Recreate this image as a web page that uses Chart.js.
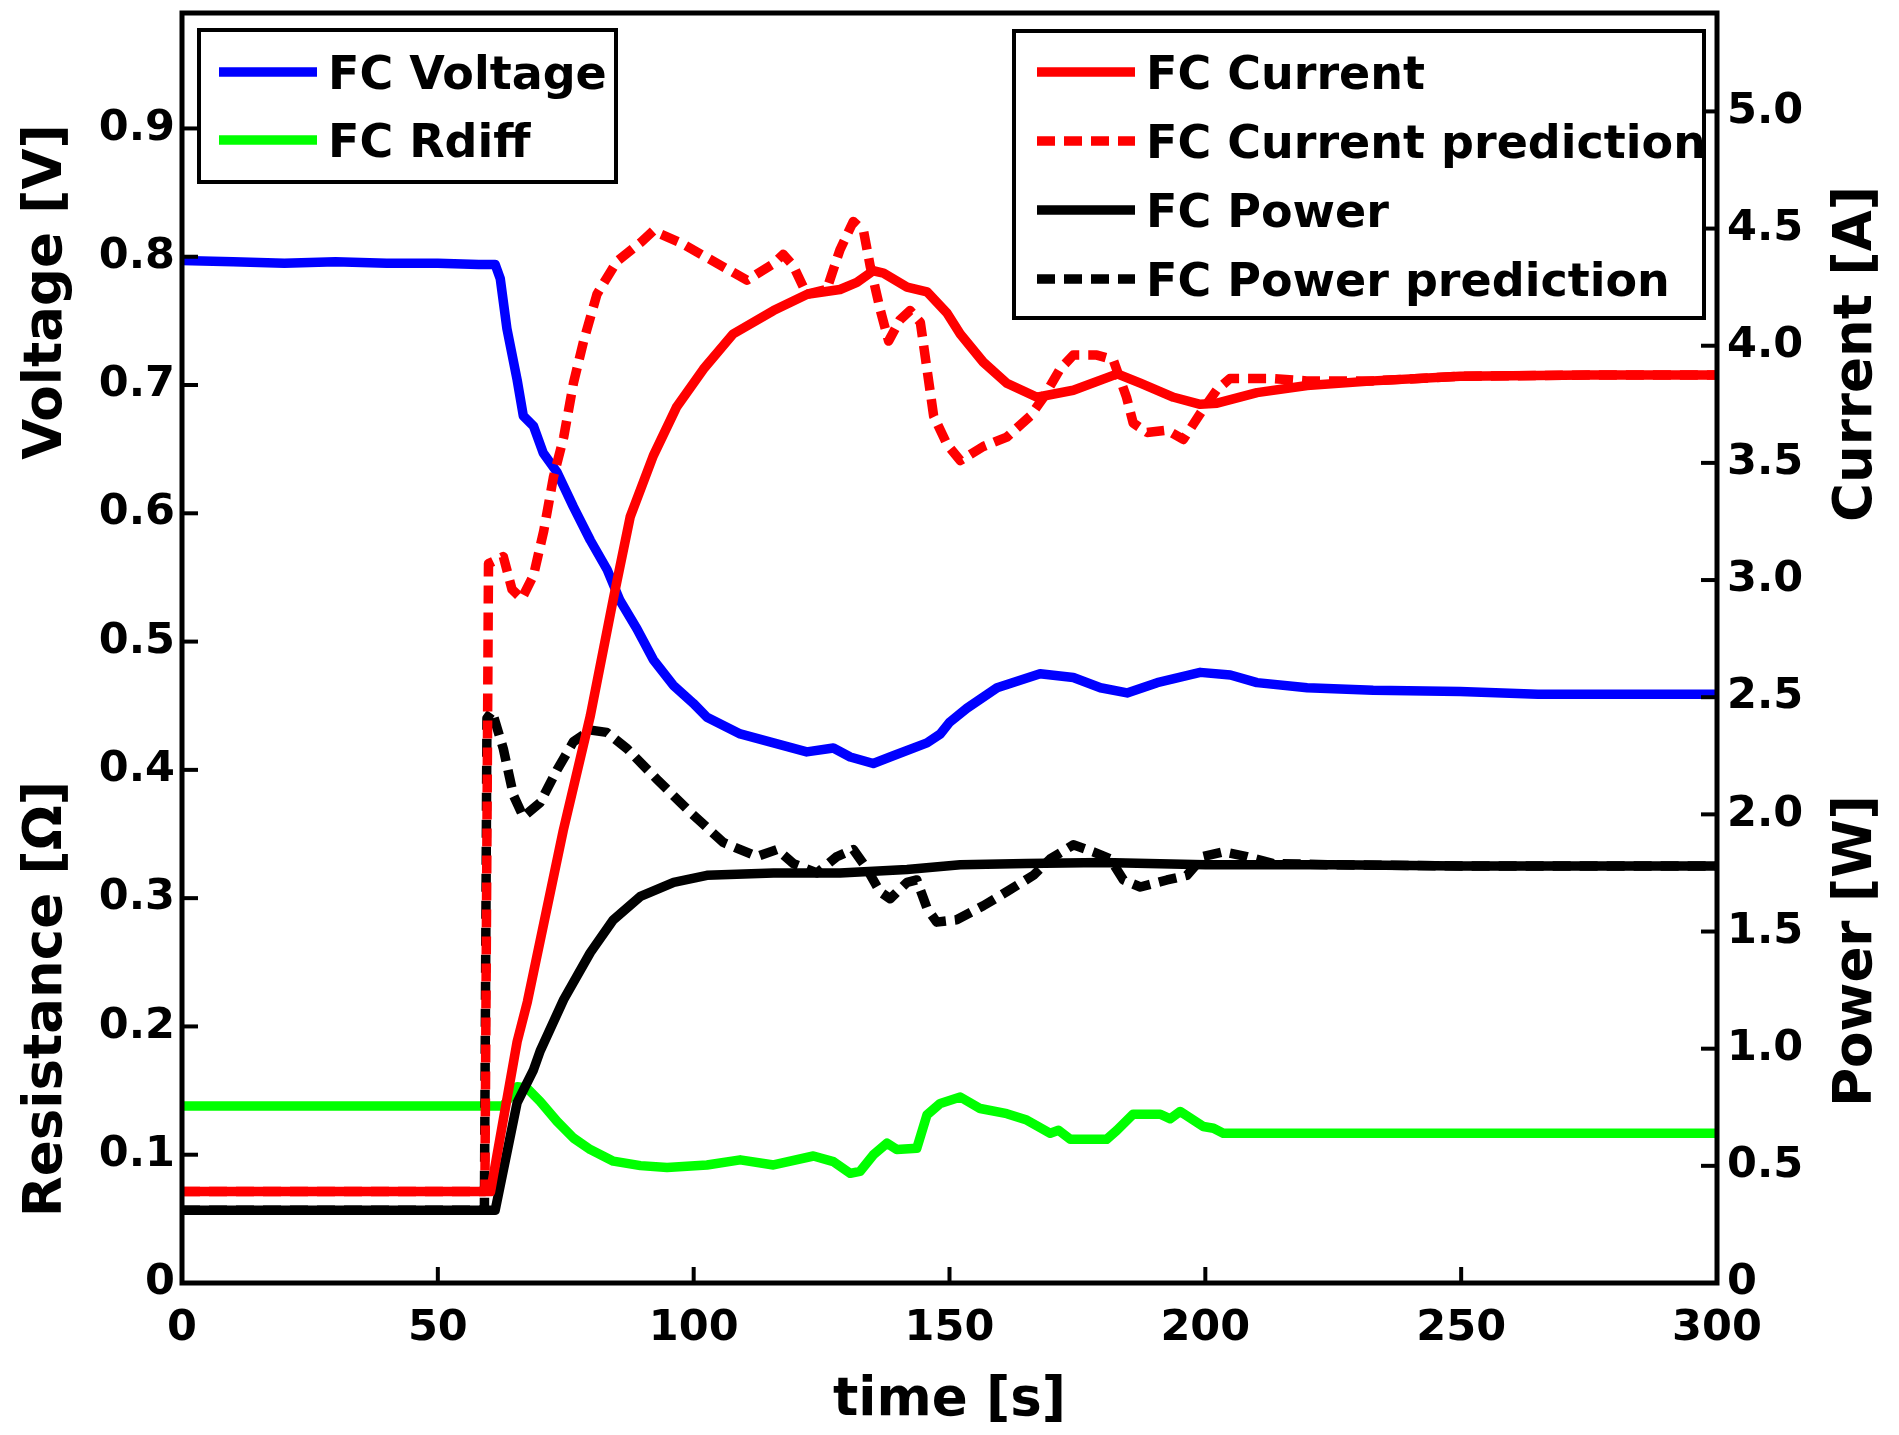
<!DOCTYPE html>
<html>
<head>
<meta charset="utf-8">
<title>FC step response</title>
<script src="https://cdn.jsdelivr.net/npm/chart.js@4.4.1/dist/chart.umd.min.js"></script>
<style>
  html, body { margin: 0; padding: 0; background: #fff; }
  #wrap { width: 1899px; height: 1435px; }
</style>
</head>
<body>
<div id="wrap"><canvas id="fcChart" width="1899" height="1435"></canvas></div>
<script>
// ────────────────────────────────────────────────
// Data (time in s)
// ────────────────────────────────────────────────
const xTicks = [0, 50, 100, 150, 200, 250, 300];
const leftTicks = [0, 0.1, 0.2, 0.3, 0.4, 0.5, 0.6, 0.7, 0.8, 0.9];
const rightTicks = [0, 0.5, 1.0, 1.5, 2.0, 2.5, 3.0, 3.5, 4.0, 4.5, 5.0];

// FC Voltage [V] (left axis)
const voltageTime = [0, 10, 20, 30, 40, 50, 58, 61.2, 62.2, 63.5, 65.5, 66.7, 68.7, 70.6, 73.3, 76.5, 79.8, 83.1, 85.6, 88.9, 92.1, 96, 99.9, 102.6, 109.1, 115.6, 122.1, 127.3, 130.6, 135.1, 139, 145.6, 148.2, 150, 153.4, 159.3, 167.7, 174.2, 179.5, 184.7, 190.6, 199, 204.9, 210.1, 219.9, 232.8, 249.8, 265, 280, 300];
const voltageValues = [0.797, 0.796, 0.795, 0.796, 0.795, 0.795, 0.794, 0.794, 0.783, 0.744, 0.704, 0.676, 0.668, 0.647, 0.632, 0.605, 0.579, 0.556, 0.532, 0.510, 0.486, 0.466, 0.452, 0.441, 0.428, 0.421, 0.414, 0.417, 0.410, 0.405, 0.411, 0.421, 0.428, 0.437, 0.448, 0.464, 0.475, 0.472, 0.464, 0.460, 0.468, 0.476, 0.474, 0.468, 0.464, 0.462, 0.461, 0.459, 0.459, 0.459];

// FC Rdiff [Ohm] (left axis)
const rdiffTime = [0, 30, 62.8, 65.5, 67.4, 70.0, 73.3, 76.5, 79.8, 84.3, 89.6, 94.8, 102.6, 109.1, 115.6, 123.4, 127.3, 130.6, 132.5, 135.1, 137.8, 139.7, 143.6, 145.6, 148.2, 152.1, 156.0, 161.2, 165.1, 169.7, 171.3, 173.6, 180.7, 182.7, 185.9, 191.2, 193.1, 195.1, 199.6, 201.6, 203.5, 250, 300];
const rdiffValues = [0.138, 0.138, 0.138, 0.153, 0.152, 0.1415, 0.126, 0.113, 0.104, 0.095, 0.0915, 0.090, 0.092, 0.096, 0.092, 0.099, 0.0946, 0.0855, 0.087, 0.0998, 0.109, 0.104, 0.105, 0.131, 0.140, 0.145, 0.136, 0.132, 0.127, 0.1167, 0.119, 0.112, 0.112, 0.119, 0.1316, 0.1316, 0.128, 0.1337, 0.122, 0.1206, 0.1167, 0.1167, 0.1167];

// FC Current [A] (right axis)
const currentTime = [0, 30, 60.3, 65.5, 67.5, 74.5, 79.8, 84.3, 87.6, 92.1, 96.7, 101.9, 107.7, 115.6, 122.2, 128.6, 131.9, 135.1, 137.1, 141.7, 145.6, 149.5, 152.1, 156.6, 161.2, 167.1, 174.2, 182.8, 187.3, 193.8, 199, 202.3, 210.1, 219.9, 232.8, 249.8, 275, 300];
const currentValues = [0.39, 0.39, 0.39, 1.03, 1.20, 1.93, 2.42, 2.92, 3.27, 3.53, 3.74, 3.90, 4.05, 4.15, 4.22, 4.24, 4.27, 4.32, 4.31, 4.25, 4.23, 4.14, 4.05, 3.93, 3.84, 3.78, 3.81, 3.88, 3.84, 3.78, 3.75, 3.755, 3.80, 3.83, 3.85, 3.87, 3.875, 3.875];

// FC Current prediction [A] (right axis)
const currentPredTime = [0, 30, 59.2, 59.9, 62.8, 64.5, 66.4, 68.7, 70.7, 72.6, 74.6, 76.5, 78.5, 81.1, 85.0, 89.6, 92.1, 97.4, 103.9, 110.4, 115.6, 117.5, 119.5, 122.1, 126.0, 128.6, 131.2, 133.2, 134.5, 136.5, 138.1, 140.3, 142.3, 144.3, 145.6, 146.9, 149.5, 152.1, 156.6, 161.2, 165.8, 168.4, 171.6, 174.2, 178.8, 182.0, 184.6, 185.9, 188.6, 192.5, 195.7, 199.6, 202.2, 204.8, 213.3, 219.8, 232.8, 249.8, 275, 300];
const currentPredValues = [0.39, 0.39, 0.39, 3.07, 3.10, 2.96, 2.92, 3.02, 3.21, 3.44, 3.61, 3.84, 4.02, 4.22, 4.36, 4.44, 4.49, 4.44, 4.36, 4.28, 4.35, 4.39, 4.34, 4.22, 4.24, 4.41, 4.53, 4.49, 4.34, 4.15, 4.02, 4.11, 4.15, 4.10, 3.90, 3.70, 3.58, 3.51, 3.57, 3.61, 3.70, 3.78, 3.90, 3.96, 3.96, 3.94, 3.78, 3.67, 3.63, 3.64, 3.60, 3.73, 3.81, 3.86, 3.86, 3.85, 3.85, 3.87, 3.875, 3.875];

// FC Power [W] (right axis)
const powerTime = [0, 30, 61.2, 65.5, 68.7, 70, 74.6, 79.8, 84.3, 89.6, 96.1, 102.6, 115.6, 128.6, 141.7, 152.1, 165, 180, 200, 225, 250, 275, 300];
const powerValues = [0.31, 0.31, 0.31, 0.77, 0.91, 0.99, 1.21, 1.41, 1.55, 1.65, 1.71, 1.74, 1.75, 1.75, 1.765, 1.785, 1.79, 1.795, 1.785, 1.785, 1.78, 1.78, 1.78];

// FC Power prediction [W] (right axis)
const powerPredTime = [0, 30, 59.1, 59.6, 60.6, 62.8, 64.8, 66.7, 70.0, 73.3, 76.5, 79.8, 83.0, 87.0, 92.8, 99.3, 105.8, 112.4, 116.3, 119.5, 124.1, 128.0, 131.2, 133.8, 136.4, 138.4, 141.7, 143.6, 145.6, 147.5, 151.4, 156.6, 161.2, 166.4, 169.7, 174.2, 178.1, 181.4, 184.0, 187.3, 192.5, 196.4, 199.6, 203.5, 208.1, 213.3, 225, 250, 275, 300];
const powerPredValues = [0.31, 0.31, 0.31, 2.41, 2.44, 2.28, 2.08, 1.99, 2.05, 2.19, 2.31, 2.36, 2.35, 2.28, 2.15, 2.01, 1.88, 1.82, 1.85, 1.79, 1.75, 1.82, 1.85, 1.77, 1.67, 1.64, 1.71, 1.72, 1.60, 1.54, 1.55, 1.61, 1.67, 1.74, 1.81, 1.87, 1.84, 1.81, 1.72, 1.69, 1.72, 1.74, 1.82, 1.84, 1.82, 1.79, 1.785, 1.78, 1.78, 1.78];

// ────────────────────────────────────────────────
// Helpers
// ────────────────────────────────────────────────
const FONT = 'DejaVu Sans';
const tickFont = { family: FONT, size: 43, weight: 'bold' };
const LINE_W = 9.5;
const DASH = [18, 9];

function zip(times, values) {
    return times.map((t, i) => ({ x: t, y: values[i] }));
}

function fmtTick(v) {
    return v === 0 ? '0' : v.toFixed(1);
}

function lineSet(label, times, values, color, axis, dashed, order) {
    return {
        label,
        data: zip(times, values),
        yAxisID: axis,
        borderColor: color,
        borderWidth: LINE_W,
        borderDash: dashed ? DASH : [],
        borderJoinStyle: 'round',
        pointRadius: 0,
        tension: 0,
        fill: false,
        order
    };
}

// keep the chart area where the reference has it: drop the label overhang padding
function noPad(s) {
    s.paddingTop = 0;
    s.paddingBottom = 0;
    s.paddingLeft = 0;
    s.paddingRight = 0;
}

// legend entries, left box and right box
const leftLegend = [
    { text: 'FC Voltage', color: '#0000ff', dashed: false },
    { text: 'FC Rdiff', color: '#00ff00', dashed: false }
];
const rightLegend = [
    { text: 'FC Current', color: '#ff0000', dashed: false },
    { text: 'FC Current prediction', color: '#ff0000', dashed: true },
    { text: 'FC Power', color: '#000000', dashed: false },
    { text: 'FC Power prediction', color: '#000000', dashed: true }
];

function drawLegendBox(ctx, box, entries) {
    ctx.save();
    ctx.fillStyle = '#fff';
    ctx.fillRect(box.x, box.y, box.w, box.h);
    ctx.beginPath();
    ctx.rect(box.x, box.y, box.w, box.h);
    ctx.clip();
    entries.forEach((e, i) => {
        const y = box.rowY + i * box.rowGap;
        ctx.beginPath();
        ctx.strokeStyle = e.color;
        ctx.lineWidth = LINE_W;
        ctx.setLineDash(e.dashed ? DASH : []);
        ctx.moveTo(box.lineX0, y);
        ctx.lineTo(box.lineX1, y);
        ctx.stroke();
        ctx.setLineDash([]);
        ctx.fillStyle = '#000';
        ctx.font = `bold 46px "${FONT}"`;
        ctx.textAlign = 'left';
        ctx.textBaseline = 'alphabetic';
        ctx.fillText(e.text, box.textX, y + 17);
    });
    ctx.restore();
    ctx.save();
    ctx.strokeStyle = '#000';
    ctx.lineWidth = 4;
    ctx.strokeRect(box.x, box.y, box.w, box.h);
    ctx.restore();
}

function drawRotated(ctx, text, x, y) {
    ctx.save();
    ctx.translate(x, y);
    ctx.rotate(-Math.PI / 2);
    ctx.textAlign = 'center';
    ctx.textBaseline = 'alphabetic';
    ctx.fillText(text, 0, 0);
    ctx.restore();
}

// frame, inward ticks, axis titles and the two legends
const decorPlugin = {
    id: 'decor',
    afterDraw(chart) {
        const { ctx, chartArea: a, scales } = chart;
        ctx.save();
        ctx.strokeStyle = '#000';
        ctx.lineWidth = 4;
        const tick = (x0, y0, x1, y1) => {
            ctx.beginPath();
            ctx.moveTo(x0, y0);
            ctx.lineTo(x1, y1);
            ctx.stroke();
        };
        scales.x.ticks.forEach(t => {
            const px = scales.x.getPixelForValue(t.value);
            tick(px, a.bottom, px, a.bottom - 16);
        });
        scales.yV.ticks.forEach(t => {
            const py = scales.yV.getPixelForValue(t.value);
            tick(a.left, py, a.left + 16, py);
        });
        scales.yA.ticks.forEach(t => {
            const py = scales.yA.getPixelForValue(t.value);
            tick(a.right, py, a.right - 16, py);
        });
        ctx.lineWidth = 5;
        ctx.strokeRect(a.left, a.top, a.right - a.left, a.bottom - a.top);

        ctx.fillStyle = '#000';
        ctx.font = `bold 53px "${FONT}"`;
        drawRotated(ctx, 'Voltage [V]', 61, 292);
        drawRotated(ctx, 'Resistance [\u03A9]', 61, 999);
        drawRotated(ctx, 'Current [A]', 1871, 354);
        drawRotated(ctx, 'Power [W]', 1871, 951);
        ctx.textAlign = 'center';
        ctx.textBaseline = 'alphabetic';
        ctx.fillText('time [s]', (a.left + a.right) / 2, 1415);
        ctx.restore();

        drawLegendBox(ctx, { x: 199, y: 30, w: 417, h: 152, lineX0: 219, lineX1: 317, textX: 328, rowY: 72, rowGap: 68 }, leftLegend);
        drawLegendBox(ctx, { x: 1014, y: 31, w: 690, h: 287, lineX0: 1037, lineX1: 1135, textX: 1146, rowY: 72, rowGap: 69 }, rightLegend);
    }
};

// ────────────────────────────────────────────────
// Chart
// ────────────────────────────────────────────────
const ctx = document.getElementById('fcChart').getContext('2d');
new Chart(ctx, {
    type: 'line',
    data: {
        datasets: [
            lineSet('FC Current', currentTime, currentValues, '#ff0000', 'yA', false, 1),
            lineSet('FC Current prediction', currentPredTime, currentPredValues, '#ff0000', 'yA', true, 2),
            lineSet('FC Power', powerTime, powerValues, '#000000', 'yA', false, 3),
            lineSet('FC Power prediction', powerPredTime, powerPredValues, '#000000', 'yA', true, 4),
            lineSet('FC Voltage', voltageTime, voltageValues, '#0000ff', 'yV', false, 5),
            lineSet('FC Rdiff', rdiffTime, rdiffValues, '#00ff00', 'yV', false, 6)
        ]
    },
    options: {
        responsive: false,
        animation: false,
        devicePixelRatio: 1,
        layout: { padding: { top: 13, left: 0, right: 0, bottom: 0 } },
        plugins: {
            legend: { display: false },
            tooltip: { enabled: false }
        },
        scales: {
            x: {
                type: 'linear',
                min: 0,
                max: 300,
                afterBuildTicks: s => { s.ticks = xTicks.map(v => ({ value: v })); },
                ticks: { font: tickFont, color: '#000', padding: 20, maxRotation: 0, callback: v => String(v) },
                grid: { display: false, drawTicks: false },
                border: { display: false },
                afterFit: s => { s.height = 152; noPad(s); }
            },
            yV: {
                type: 'linear',
                position: 'left',
                min: 0,
                max: 0.99,
                afterBuildTicks: s => { s.ticks = leftTicks.map(v => ({ value: v })); },
                ticks: { font: tickFont, color: '#000', padding: 7, callback: fmtTick },
                grid: { display: false, drawTicks: false },
                border: { display: false },
                afterFit: s => { s.width = 182; noPad(s); }
            },
            yA: {
                type: 'linear',
                position: 'right',
                min: 0,
                max: 5.42,
                afterBuildTicks: s => { s.ticks = rightTicks.map(v => ({ value: v })); },
                ticks: { font: tickFont, color: '#000', padding: 10, callback: fmtTick },
                grid: { display: false, drawTicks: false },
                border: { display: false },
                afterFit: s => { s.width = 182; noPad(s); }
            }
        }
    },
    plugins: [decorPlugin]
});
</script>
</body>
</html>
